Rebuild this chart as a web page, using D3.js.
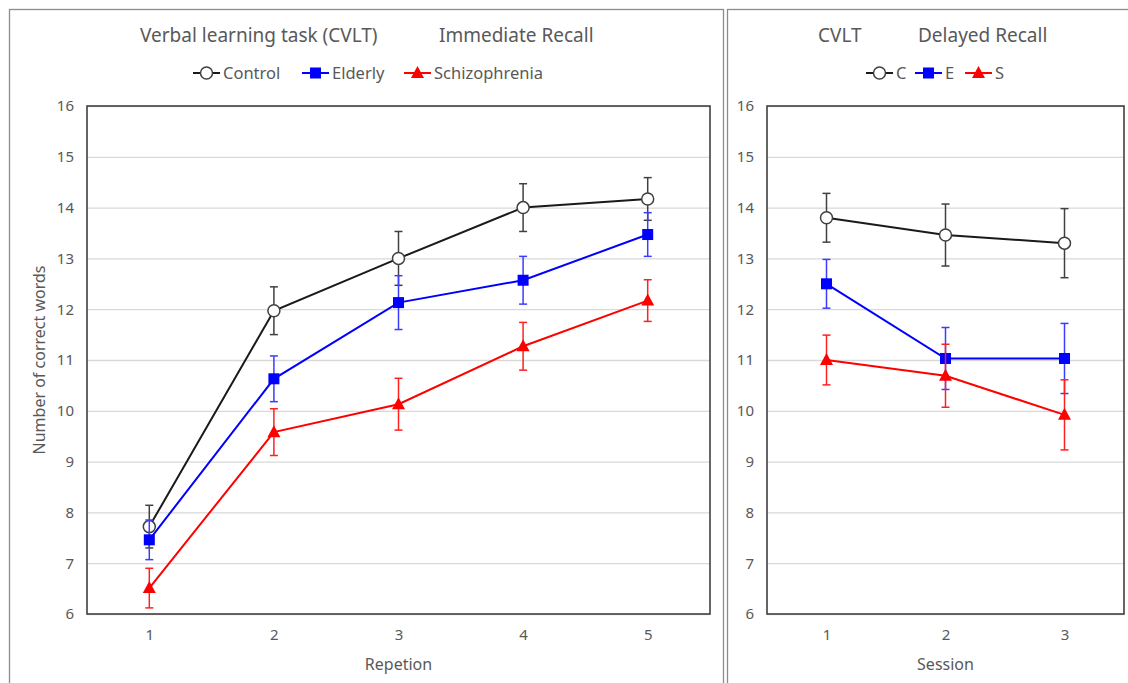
<!DOCTYPE html>
<html>
<head>
<meta charset="utf-8">
<script src="https://cdn.jsdelivr.net/npm/d3@7"></script>
<style>
  body { margin: 0; background: #fff; }
  text { font-family: "Noto Sans", sans-serif; fill: #595959; }
</style>
</head>
<body>
<div id="chart"></div>
<script>
// data
var repetitions = [1, 2, 3, 4, 5];
var sessions = [1, 2, 3];
var yTicks = [6, 7, 8, 9, 10, 11, 12, 13, 14, 15, 16];

var immNames = ["Control", "Elderly", "Schizophrenia"];
var controlImm = [7.72, 11.97, 13.0, 14.0, 14.17];
var controlImmErr = [0.42, 0.47, 0.53, 0.47, 0.42];
var elderlyImm = [7.46, 10.63, 12.13, 12.57, 13.47];
var elderlyImmErr = [0.39, 0.45, 0.53, 0.47, 0.43];
var schizoImm = [6.51, 9.58, 10.13, 11.27, 12.17];
var schizoImmErr = [0.39, 0.46, 0.51, 0.47, 0.41];

var delNames = ["C", "E", "S"];
var controlDel = [13.8, 13.46, 13.3];
var controlDelErr = [0.48, 0.61, 0.68];
var elderlyDel = [12.5, 11.03, 11.03];
var elderlyDelErr = [0.48, 0.61, 0.69];
var schizoDel = [11.0, 10.69, 9.92];
var schizoDelErr = [0.49, 0.62, 0.69];

var svgWidth = 1128;
var svgHeight = 683;

var svg = d3.select("#chart")
  .append("svg")
  .attr("width", svgWidth)
  .attr("height", svgHeight);

// outer frames of the two panels
svg.append("rect")
  .attr("x", 9.5).attr("y", 9.5)
  .attr("width", 714).attr("height", 700)
  .attr("fill", "none").attr("stroke", "#8c8c8c").attr("stroke-width", 1.3);
svg.append("rect")
  .attr("x", 727.5).attr("y", 9.5)
  .attr("width", 420).attr("height", 700)
  .attr("fill", "none").attr("stroke", "#8c8c8c").attr("stroke-width", 1.3);

var styles = [
  { line: "#1a1a1a", err: "#404040", marker: "circle" },
  { line: "#0000ff", err: "#3c3cff", marker: "square" },
  { line: "#ff0000", err: "#ff2020", marker: "triangle" }
];

function drawMarker(g, kind, x, y) {
  if (kind === "circle") {
    g.append("circle").attr("cx", x).attr("cy", y).attr("r", 6)
      .attr("fill", "#fff").attr("stroke", "#404040").attr("stroke-width", 1.5);
  } else if (kind === "square") {
    g.append("rect").attr("x", x - 5.5).attr("y", y - 5.5)
      .attr("width", 11).attr("height", 11).attr("fill", "#0000ff");
  } else {
    g.append("path")
      .attr("d", `M${x},${y - 7}L${x + 6.5},${y + 5}L${x - 6.5},${y + 5}Z`)
      .attr("fill", "#ff0000");
  }
}

function panel(opts) {
  var x = d3.scalePoint()
    .domain(opts.cats)
    .range([opts.left, opts.right])
    .padding(0.5);

  var y = d3.scaleLinear()
    .domain([6, 16])
    .range([614, 106]);

  var g = svg.append("g");

  // gridlines
  g.append("g")
    .call(d3.axisLeft(y).tickValues(yTicks).tickSize(-(opts.right - opts.left)).tickFormat(""))
    .attr("transform", `translate(${opts.left},0)`)
    .call(a => a.select(".domain").remove())
    .call(a => a.selectAll("line").attr("stroke", "#d9d9d9").attr("stroke-width", 1.3));

  // y tick labels
  g.append("g")
    .attr("transform", `translate(${opts.left},0)`)
    .call(d3.axisLeft(y).tickValues(yTicks).tickSize(0).tickPadding(opts.yPad))
    .call(a => a.select(".domain").remove())
    .call(a => a.selectAll("text").attr("font-size", 15).attr("font-family", "Noto Sans").style("fill", "#595959"));

  // x tick labels
  g.append("g")
    .attr("transform", "translate(0,614)")
    .call(d3.axisBottom(x).tickSize(0).tickPadding(15))
    .call(a => a.select(".domain").remove())
    .call(a => a.selectAll("text").attr("font-size", 15).attr("font-family", "Noto Sans").style("fill", "#595959"));

  // plot border
  g.append("rect")
    .attr("x", opts.left).attr("y", 106)
    .attr("width", opts.right - opts.left).attr("height", 508)
    .attr("fill", "none").attr("stroke", "#404040").attr("stroke-width", 1.6);

  // series
  opts.series.forEach(function(s, i) {
    var st = styles[i];
    var pts = opts.cats.map((c, j) => ({ c: c, v: s.values[j], e: s.errs[j] }));

    var line = d3.line().x(d => x(d.c)).y(d => y(d.v));
    g.append("path")
      .datum(pts)
      .attr("d", line)
      .attr("fill", "none")
      .attr("stroke", st.line)
      .attr("stroke-width", 2);

    pts.forEach(function(d) {
      var cx = x(d.c);
      g.append("line")
        .attr("x1", cx).attr("x2", cx)
        .attr("y1", y(d.v + d.e)).attr("y2", y(d.v - d.e))
        .attr("stroke", st.err).attr("stroke-width", 1.5);
      [d.v + d.e, d.v - d.e].forEach(function(v) {
        g.append("line")
          .attr("x1", cx - 4).attr("x2", cx + 4)
          .attr("y1", y(v)).attr("y2", y(v))
          .attr("stroke", st.err).attr("stroke-width", 1.5);
      });
    });

    pts.forEach(d => drawMarker(g, st.marker, x(d.c), y(d.v)));
  });

  // titles
  opts.titles.forEach(function(t) {
    g.append("text").attr("x", t.x).attr("y", 42)
      .attr("font-size", 19).text(t.text);
  });

  // legend
  opts.legend.forEach(function(l, i) {
    var st = styles[i];
    g.append("line")
      .attr("x1", l.x).attr("x2", l.x + 27)
      .attr("y1", 73).attr("y2", 73)
      .attr("stroke", st.line).attr("stroke-width", 2);
    drawMarker(g, st.marker, l.x + 13.5, 73);
    g.append("text").attr("x", l.x + 30).attr("y", 79)
      .attr("font-size", 16.5).text(opts.names[i]);
  });

  // x axis title
  g.append("text")
    .attr("x", (opts.left + opts.right) / 2).attr("y", 670)
    .attr("text-anchor", "middle")
    .attr("font-size", 16)
    .text(opts.xTitle);
}

panel({
  cats: repetitions,
  left: 87, right: 710, yPad: 13,
  names: immNames,
  series: [
    { values: controlImm, errs: controlImmErr },
    { values: elderlyImm, errs: elderlyImmErr },
    { values: schizoImm, errs: schizoImmErr }
  ],
  titles: [
    { x: 140, text: "Verbal learning task (CVLT)" },
    { x: 439, text: "Immediate Recall" }
  ],
  legend: [{ x: 193 }, { x: 302 }, { x: 404 }],
  xTitle: "Repetion"
});

panel({
  cats: sessions,
  left: 767, right: 1124, yPad: 13,
  names: delNames,
  series: [
    { values: controlDel, errs: controlDelErr },
    { values: elderlyDel, errs: elderlyDelErr },
    { values: schizoDel, errs: schizoDelErr }
  ],
  titles: [
    { x: 818, text: "CVLT" },
    { x: 918, text: "Delayed Recall" }
  ],
  legend: [{ x: 866 }, { x: 915 }, { x: 965 }],
  xTitle: "Session"
});

// y axis title (left panel only)
svg.append("text")
  .attr("transform", "translate(45,360) rotate(-90)")
  .attr("text-anchor", "middle")
  .attr("font-size", 16)
  .text("Number of correct words");
</script>
</body>
</html>
